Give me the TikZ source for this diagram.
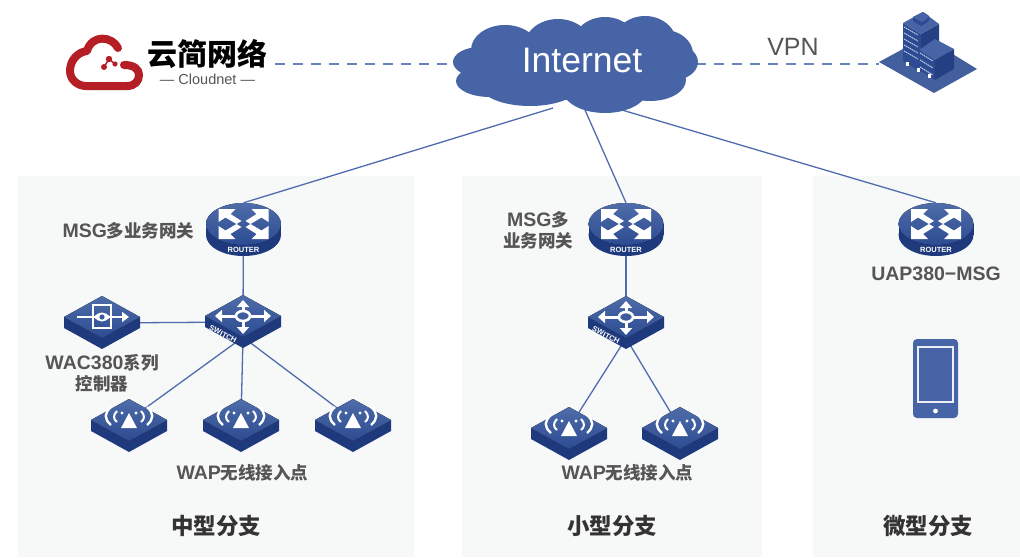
\documentclass[tikz,border=0pt]{standalone}
\usepackage{fontspec}
\setmainfont{Liberation Sans}
\newfontfamily\cjk{Noto Sans CJK SC}
\newcommand{\lat}[1]{{\rmfamily\bfseries\fontsize{19.5}{21}\selectfont #1}}
\usetikzlibrary{arrows.meta}
\usetikzlibrary{positioning}
\definecolor{facecol}{HTML}{3A5C9F}
\definecolor{facelow}{HTML}{2D4B92}
\definecolor{sidecol}{HTML}{1F3A7C}
\definecolor{cloudcol}{HTML}{4664A6}
\definecolor{linecol}{HTML}{4F6CAD}
\definecolor{panelcol}{HTML}{F7F8F8}
\definecolor{labelcol}{HTML}{555555}
\definecolor{logored}{HTML}{B51E24}
\begin{document}
\begin{tikzpicture}[
      x = 1pt, y = -1pt,
      icon/.style = {
        rectangle, inner sep = 0pt,
        minimum width = 76pt, minimum height = 42pt
      },
      panel/.style = { fill = panelcol, draw = none },
      link/.style = { draw = linecol, line width = 1.3pt },
      vpnlink/.style = { draw = linecol!85, line width = 1.2pt, dash pattern = on 10pt off 8pt },
      label/.style = { text = labelcol, font = \cjk\bfseries\fontsize{17.5}{21}\selectfont, align = center, inner sep = 0pt },
      title/.style = { text = black!80, font = \cjk\bfseries\fontsize{22.5}{24}\selectfont, inner sep = 0pt },
      plate/.pic = {
        \fill[sidecol] (-38,0) -- (0,21) -- (38,0) -- (38,11) -- (0,32) -- (-38,11) -- cycle;
        \fill[top color = facecol!90!white, bottom color = facelow] (0,-21) -- (38,0) -- (0,21) -- (-38,0) -- cycle;
      },
      routericon/.pic = {
        \fill[sidecol] (-37.5,0) rectangle (37.5,11);
        \fill[sidecol] (0,11) ellipse (37.5 and 21);
        \fill[top color = facecol!90!white, bottom color = facelow] (0,0) ellipse (37.5 and 21);
        \foreach \sx/\sy in {1/1, -1/1, 1/-1, -1/-1} {
          \fill[white, xscale = \sx, yscale = \sy] (-25,-15) -- (-8,-15) -- (-13,-10) -- (-2,-3) -- (-7,0) -- (-18,-6.5) -- (-25,-2) -- cycle;
        }
        \node[text = white, font = \bfseries\fontsize{7.5}{7.5}\selectfont, inner sep = 0pt] at (0,26) {ROUTER};
      },
      switchicon/.pic = {
        \pic {plate};
        \draw[white, line width = 2.6pt] (0,0) ellipse (7 and 5);
        \foreach \tx/\ty/\fx/\fy in {0/-16/0/-5, 0/18/0/5, -28/0/-7/0, 28/0/7/0} {
          \draw[white, line width = 3pt, -{Triangle[width = 12pt, length = 7pt]}] (\fx,\fy) -- (\tx,\ty);
        }
        \node[text = white, font = \bfseries\fontsize{7.5}{7.5}\selectfont, inner sep = 0pt, rotate = -27] at (-20,18) {SWITCH};
      },
      wacicon/.pic = {
        \pic {plate};
        \draw[white, line width = 1.5pt] (-9,-12) rectangle (9,11);
        \draw[white, line width = 2.2pt, -{Triangle[width = 10pt, length = 7pt]}] (-25,0) -- (27,0);
        \fill[white] (-8,0) .. controls (-3,-6) and (3,-6) .. (8,0) .. controls (3,6) and (-3,6) .. (-8,0) -- cycle;
        \fill[facecol] (0,0) circle (2.6);
      },
      apicon/.pic = {
        \pic {plate};
        \fill[white] (0,-7) -- (8,8) -- (-8,8) -- cycle;
        \foreach \sx in {1,-1} {
          \begin{scope}[xscale = \sx]
            \draw[white, line width = 2.4pt] (18,-13) .. controls (25,-7) and (25,-1) .. (18,5);
            \draw[white, line width = 2pt] (12,-9) .. controls (16,-5) and (16,-1) .. (12,2);
            \fill[white] (7,-7) circle (1.7);
          \end{scope}
        }
      },
    ]
    \useasboundingbox (0,0) rectangle (1020,557);

    \fill[panel] (18,176) rectangle (414,557);
    \fill[panel] (462,176) rectangle (762,557);
    \fill[panel] (813,176) rectangle (1020,557);

    \node[icon] (R1) at (243.5,224) {};
    \node[icon] (S1) at (243,316) {};
    \node[icon] (WAC) at (102,317) {};
    \node[icon] (AP1) at (129,420) {};
    \node[icon] (AP2) at (241,420) {};
    \node[icon] (AP3) at (353,420) {};
    \node[icon] (R2) at (626,224) {};
    \node[icon] (S2) at (626,317) {};
    \node[icon] (AP4) at (569,428) {};
    \node[icon] (AP5) at (680,428) {};
    \node[icon] (R3) at (936,224) {};
    \coordinate (inetA) at (553,108);
    \coordinate (inetB) at (585,110);
    \coordinate (inetC) at (605,105);
    \coordinate (logoEnd) at (275,64);
    \coordinate (inetW) at (452,64);
    \coordinate (inetE) at (696,64);
    \coordinate (towerW) at (879,64);

    \draw[link] (inetA) -- (R1.north);
    \draw[link] (inetB) -- (R2.north);
    \draw[link] (inetC) -- (R3.north);
    \draw[link] (R1.center) -- (S1.center);
    \draw[link] (R2.center) -- (S2.center);
    \draw[link] ([yshift = -6pt]WAC.center) -- ([yshift = -6pt]S1.center);
    \draw[link] (S1.south) -- (AP1.center);
    \draw[link] (S1.south) -- (AP2.center);
    \draw[link] (S1.south) -- (AP3.center);
    \draw[link] (S2.south) -- (AP4.center);
    \draw[link] (S2.south) -- (AP5.center);
    \draw[vpnlink] (logoEnd) -- (inetW);
    \draw[vpnlink] (inetE) -- (towerW);

    \foreach \cx/\cy/\rx/\ry in {505/50/34/25, 558/47/34/28, 605/44/32/27, 645/44/32/28, 664/54/29/24, 670/62/28/19, 650/80/36/21, 605/90/42/23, 530/85/50/21, 490/81/34/16, 480/62/27/15, 575/65/90/35} {
      \fill[cloudcol] (\cx,\cy) ellipse [x radius = \rx, y radius = \ry];
    }
    \node[text = white, font = \fontsize{35.5}{35.5}\selectfont, inner sep = 0pt] (inet) at (582,60) {Internet};
    \node[text = labelcol, font = \fontsize{25}{25}\selectfont, inner sep = 0pt] (vpn) at (793,47) {VPN};

    \pic at (R1.center) {routericon};
    \pic at (S1.center) {switchicon};
    \pic at (WAC.center) {wacicon};
    \pic at (AP1.center) {apicon};
    \pic at (AP2.center) {apicon};
    \pic at (AP3.center) {apicon};
    \pic at (R2.center) {routericon};
    \pic at (S2.center) {switchicon};
    \pic at (AP4.center) {apicon};
    \pic at (AP5.center) {apicon};
    \pic at (R3.center) {routericon};

    \node[label] (msgA) at (128.5,231) {\lat{MSG}多业务网关};
    \node[label] (msgB) at (538,230) {\lat{MSG}多\\业务网关};
    \node[label] (uap) at (936,274) {\lat{UAP380−MSG}};
    \node[label] (wac) at (102,373) {\lat{WAC380}系列\\控制器};
    \node[label] (wapA) at (242.5,473) {\lat{WAP}无线接入点};
    \node[label] (wapB) at (627.5,473) {\lat{WAP}无线接入点};
    \node[title] (midB) at (216,526) {中型分支};
    \node[title] (smallB) at (612,526) {小型分支};
    \node[title] (microB) at (928,526) {微型分支};

    % phone
    \fill[cloudcol, rounded corners = 4pt] (913,339) rectangle (958,418);
    \draw[white!90!cloudcol, line width = 2pt] (917.5,346.5) rectangle (953,401.5);
    \fill[white] (935.5,411) circle (2.4);

    % building
    \fill[cloudcol!95!black] (879,62) -- (925,37) -- (977,69) -- (934,93) -- cycle;
    \fill[facelow] (903,23) -- (921,34) -- (921,72) -- (903,61) -- cycle;
    \fill[sidecol!85!cloudcol] (921,34) -- (939,24) -- (939,60) -- (921,72) -- cycle;
    \fill[cloudcol] (923,12) -- (939,24) -- (921,34) -- (903,23) -- cycle;
    \fill[facelow] (913,21) -- (913,17) -- (923,12) -- (929,16) -- (929,21) -- (921,26) -- cycle;
    \fill[cloudcol] (913,17) -- (922,22) -- (929,17) -- (923,12) -- cycle;
    \fill[facelow] (919,50) -- (935,60) -- (935,80) -- (919,70) -- cycle;
    \fill[sidecol!85!cloudcol] (935,60) -- (954,49) -- (954,69) -- (935,80) -- cycle;
    \fill[cloudcol] (935,39) -- (954,49) -- (935,60) -- (919,50) -- cycle;
    \foreach \wy in {27,33,39,45,51} {
      \draw[white!70!cloudcol, line width = 1pt, dash pattern = on 1.5pt off .7pt] (904,\wy) -- (918,\wy+8);
    }
    \foreach \wy in {53,60,67} {
      \draw[white!70!cloudcol, line width = 1pt, dash pattern = on 1.5pt off .7pt] (920,\wy) -- (933,\wy+8);
    }
    \fill[white] (906,62) rectangle (909,66);
    \fill[white] (917,68) rectangle (920,72);
    \fill[white] (928,74) rectangle (931,78);

    % logo
    \draw[logored, line width = 8pt, line cap = round, line join = round] (118,48) .. controls (112,36) and (92,34) .. (87,51) .. controls (78,52) and (70,60) .. (70,71) .. controls (70,80) and (78,86) .. (86,86) -- (127,86) .. controls (135,86) and (139,81) .. (139,75) .. controls (139,69) and (134,65) .. (124,65);
    \draw[logored, line width = 1.5pt] (104,67) -- (109,59) -- (115,64);
    \fill[logored] (109,59) circle (3.2);
    \fill[logored] (104,67) circle (3);
    \fill[logored] (115,64) circle (2.6);
    \node[text = black, font = \cjk\bfseries\fontsize{30}{30}\selectfont, inner sep = 0pt] (logoName) at (207.5,54) {云简网络};
    \node[text = labelcol, font = \fontsize{14.5}{14.5}\selectfont, inner sep = 0pt] (logoSub) at (207.5,79) {— Cloudnet —};
  \end{tikzpicture}
\end{document}
